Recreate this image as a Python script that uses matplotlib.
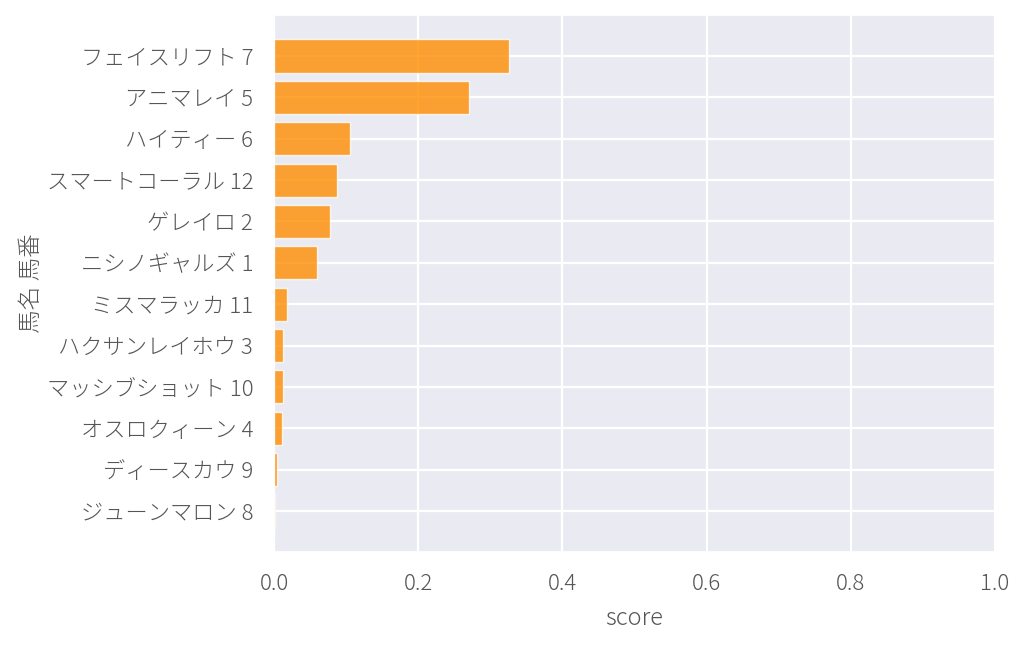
import matplotlib
matplotlib.use('Agg')
import matplotlib.pyplot as plt
import seaborn as sns

# horse names + numbers, top to bottom as shown
names = ['フェイスリフト 7', 'アニマレイ 5', 'ハイティー 6', 'スマートコーラル 12',
         'ゲレイロ 2', 'ニシノギャルズ 1', 'ミスマラッカ 11', 'ハクサンレイホウ 3',
         'マッシブショット 10', 'オスロクィーン 4', 'ディースカウ 9', 'ジューンマロン 8']
scores = [0.326, 0.270, 0.106, 0.088, 0.077, 0.059, 0.0185, 0.0125,
          0.0125, 0.0107, 0.004, 0.0008]

sns.set_theme(style='darkgrid', rc={'grid.linewidth': 1.6})
plt.rcParams['font.family'] = ['Noto Sans CJK JP', 'DejaVu Sans']

fig = plt.figure(figsize=(10.24, 6.45), dpi=100)
ax = fig.add_axes([0.2676, 0.1442, 0.7041, 0.8325])

# reverse so the first name sits on top
ax.barh(names[::-1], scores[::-1], height=0.8, color='darkorange', alpha=0.8,
        edgecolor='white', linewidth=1)

ax.set_xlim(0, 1.0)
ax.set_xlabel('score', fontsize=17, color='#555555', fontweight='light', labelpad=8)
ax.set_ylabel('馬名 馬番', fontsize=17, color='#555555', fontweight='light', labelpad=2)
ax.tick_params(axis='both', labelsize=16, labelcolor='#555555', pad=9)
for lbl in ax.get_xticklabels() + ax.get_yticklabels():
    lbl.set_fontweight('light')

fig.savefig('out.png', dpi=100)
